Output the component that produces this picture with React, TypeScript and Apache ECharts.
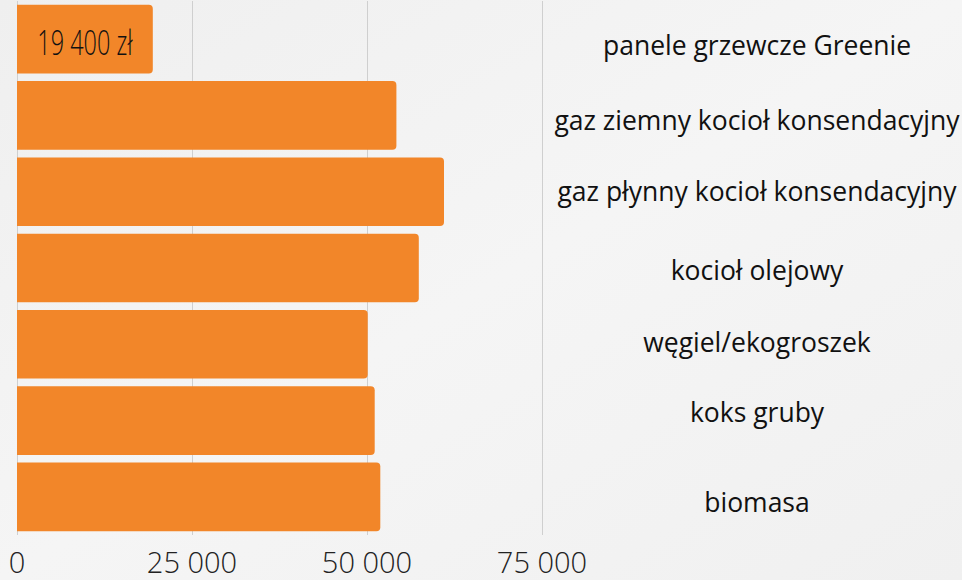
import React, { useEffect, useRef } from "react";
import * as echarts from "echarts";

const categories = [
  "panele grzewcze Greenie",
  "gaz ziemny kocioł konsendacyjny",
  "gaz płynny kocioł konsendacyjny",
  "kocioł olejowy",
  "węgiel/ekogroszek",
  "koks gruby",
  "biomasa",
];
const values = [19400, 54200, 61000, 57400, 50100, 51100, 51900];
const labelledIndex = 0;
const currency = " zł";
// vertical nudge (px) of each category label from its bar centre (style only)
const labelShift = [6, 5, -1, 2, -2, -9, 5];

const fmt = (v: number) => String(v).replace(/\B(?=(\d{3})+(?!\d))/g, " ");

export default function App() {
  const ref = useRef<HTMLDivElement>(null);
  useEffect(() => {
    const chart = echarts.init(ref.current!, null, { renderer: "svg" });
    chart.setOption({
      animation: false,
      backgroundColor: {
        type: "linear",
        x: 0,
        y: 0,
        x2: 1,
        y2: 1,
        colorStops: [
          { offset: 0, color: "#efefef" },
          { offset: 0.5, color: "#f5f5f5" },
          { offset: 1, color: "#f0f0f0" },
        ],
      },
      grid: {
        left: 17,
        right: 420,
        top: 1,
        bottom: 45,
        containLabel: false,
        outerBoundsMode: "none",
      },
      xAxis: {
        type: "value",
        min: 0,
        max: 75000,
        interval: 25000,
        axisLine: { show: false },
        axisTick: { show: false },
        splitLine: { show: true, lineStyle: { color: "#cfcfcf", width: 1 } },
        axisLabel: {
          formatter: (v: number) => fmt(v),
          fontFamily: "Open Sans",
          fontWeight: 300,
          fontSize: 29,
          color: "#222",
          margin: 12,
        },
      },
      yAxis: {
        type: "category",
        data: categories.map((c, i) => {
          const s = labelShift[i];
          return {
            value: c,
            textStyle: {
              align: "center",
              fontFamily: "Open Sans",
              fontSize: 26.5,
              color: "#111",
              verticalAlign: s >= 0 ? "top" : "bottom",
              lineHeight: Math.max(1, Math.abs(2 * s)),
            },
          };
        }),
        inverse: true,
        position: "right",
        axisLine: { show: false },
        axisTick: { show: false },
        splitLine: { show: false },
        axisLabel: {
          align: "center",
          margin: 215,
          fontFamily: "Open Sans",
          fontSize: 26.5,
          color: "#111",
        },
      },
      series: [
        {
          type: "bar",
          data: values,
          barCategoryGap: "10%",
          itemStyle: { color: "#f28629", borderRadius: [0, 4, 4, 0] },
        },
        {
          type: "custom",
          data: [[values[labelledIndex], labelledIndex]],
          z: 10,
          renderItem: (_params: any, api: any) => {
            const c = api.coord([api.value(0) / 2, api.value(1)]);
            return {
              type: "text",
              x: c[0],
              y: c[1] + 3,
              scaleX: 0.69,
              style: {
                text: fmt(api.value(0)) + currency,
                fontFamily: "Open Sans",
                fontWeight: 300,
                fontSize: 34,
                fill: "#111",
                align: "center",
                verticalAlign: "middle",
              },
            };
          },
        },
      ],
    });
    return () => chart.dispose();
  }, []);
  return (
    <div
      ref={ref}
      style={{ position: "fixed", left: 0, top: 0, width: 962, height: 580 }}
    />
  );
}
